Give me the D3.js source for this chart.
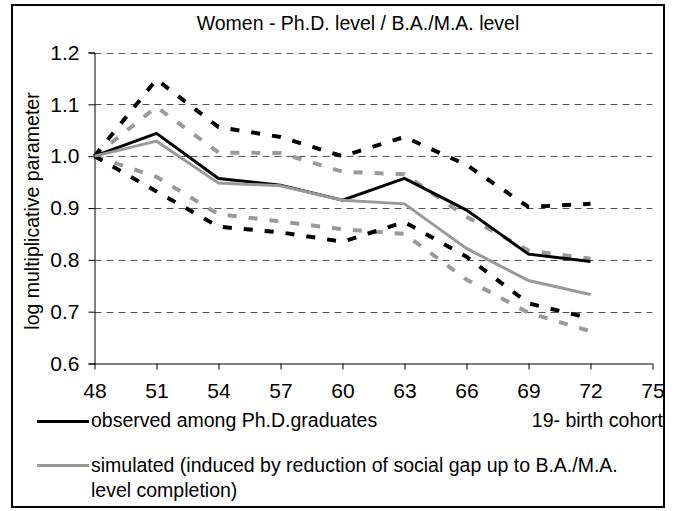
<!DOCTYPE html>
<html>
<head>
<meta charset="utf-8">
<script src="https://cdn.jsdelivr.net/npm/d3@7"></script>
<style>
  html, body { margin: 0; padding: 0; background: #fff; }
  svg { display: block; }
  text { font-family: "Liberation Sans", Arial, sans-serif; fill: #000; }
</style>
</head>
<body>
<svg id="chart" width="676" height="511"></svg>
<script>
// Birth cohorts (19xx) and the log multiplicative parameter for each series
const cohorts = [48, 51, 54, 57, 60, 63, 66, 69, 72];
const observed      = [1.000, 1.044, 0.957, 0.944, 0.915, 0.957, 0.896, 0.811, 0.797];
const observedHigh  = [1.000, 1.148, 1.056, 1.037, 1.000, 1.037, 0.983, 0.902, 0.908];
const observedLow   = [1.000, 0.932, 0.864, 0.853, 0.835, 0.873, 0.806, 0.716, 0.687];
const simulated     = [1.000, 1.029, 0.948, 0.943, 0.915, 0.908, 0.822, 0.760, 0.733];
const simulatedHigh = [1.000, 1.095, 1.007, 1.006, 0.970, 0.965, 0.883, 0.818, 0.802];
const simulatedLow  = [1.000, 0.960, 0.888, 0.874, 0.859, 0.850, 0.762, 0.698, 0.662];
const xTicks = [48, 51, 54, 57, 60, 63, 66, 69, 72, 75];
const yTicks = [0.6, 0.7, 0.8, 0.9, 1.0, 1.1, 1.2];

const titleText = "Women - Ph.D. level / B.A./M.A. level";
const yLabel = "log multiplicative parameter";
const legendObserved = "observed among Ph.D.graduates";
const cohortLabel = "19- birth cohort";
const legendSimulated = ["simulated (induced by reduction of social gap up to B.A./M.A.", "level completion)"];

const svg = d3.select("#chart");
const tickFont = 21;
const textFont = 19.5;

// outer frame
svg.append("rect")
  .attr("x", 12).attr("y", 5).attr("width", 652).attr("height", 502)
  .attr("fill", "#fff").attr("stroke", "#000").attr("stroke-width", 2);

const x = d3.scaleLinear().domain([48, 75]).range([94.5, 652.5]);
const y = d3.scaleLinear().domain([0.6, 1.2]).range([363.5, 52.5]);

// horizontal dashed gridlines
svg.append("g")
  .selectAll("line")
  .data(yTicks.filter(v => v > 0.6))
  .join("line")
  .attr("x1", x(48)).attr("x2", x(75))
  .attr("y1", d => Math.round(y(d)) + 0.5).attr("y2", d => Math.round(y(d)) + 0.5)
  .attr("stroke", "#555").attr("stroke-width", 1)
  .attr("stroke-dasharray", "7,5");

// axes
const yAxis = svg.append("g")
  .attr("transform", `translate(${x(48)},0)`)
  .call(d3.axisLeft(y).tickValues(yTicks).tickFormat(d3.format(".1f")).tickSize(6).tickPadding(9));
const xAxis = svg.append("g")
  .attr("transform", `translate(0,${y(0.6)})`)
  .call(d3.axisBottom(x).tickValues(xTicks).tickFormat(d3.format("d")).tickSize(6).tickPadding(14));
[yAxis, xAxis].forEach(g => {
  g.select(".domain").attr("stroke", "#000").attr("stroke-width", 1);
  g.selectAll(".tick line").attr("stroke", "#000");
  g.selectAll(".tick text")
    .style("font-family", '"Liberation Sans", Arial, sans-serif')
    .style("font-size", tickFont + "px").attr("fill", "#000");
});
xAxis.select(".domain").attr("d", `M${x(48)},0.5H${x(75)}`);
xAxis.selectAll(".tick line").attr("y1", 0);

// series lines
const line = vals => d3.line()
  .x((d, i) => x(cohorts[i]))
  .y(d => y(d))(vals);

const series = [
  { vals: simulatedHigh, color: "#999", dash: "9,12", width: 4 },
  { vals: simulatedLow,  color: "#999", dash: "9,12", width: 4 },
  { vals: observedHigh,  color: "#000", dash: "9,12", width: 4 },
  { vals: observedLow,   color: "#000", dash: "9,12", width: 4 },
  { vals: observed,      color: "#000", dash: null,   width: 3 },
  { vals: simulated,     color: "#999", dash: null,   width: 3 }
];
svg.append("g")
  .selectAll("path")
  .data(series)
  .join("path")
  .attr("d", d => line(d.vals))
  .attr("fill", "none")
  .attr("stroke", d => d.color)
  .attr("stroke-width", d => d.width)
  .attr("stroke-dasharray", d => d.dash)
  .attr("stroke-linejoin", "miter");

// title
svg.append("text")
  .attr("x", 358).attr("y", 30)
  .attr("text-anchor", "middle")
  .style("font-size", textFont + "px")
  .text(titleText);

// y axis title
svg.append("text")
  .attr("transform", `translate(39,${(y(0.6) + y(1.2)) / 2 + 3}) rotate(-90)`)
  .attr("text-anchor", "middle")
  .style("font-size", textFont + "px")
  .text(yLabel);

// legend
svg.append("line")
  .attr("x1", 37).attr("x2", 89).attr("y1", 421.5).attr("y2", 421.5)
  .attr("stroke", "#000").attr("stroke-width", 3);
svg.append("text")
  .attr("x", 91).attr("y", 427)
  .style("font-size", textFont + "px")
  .text(legendObserved);
svg.append("text")
  .attr("x", 663).attr("y", 427)
  .attr("text-anchor", "end")
  .style("font-size", textFont + "px")
  .text(cohortLabel);

svg.append("line")
  .attr("x1", 37).attr("x2", 89).attr("y1", 465.5).attr("y2", 465.5)
  .attr("stroke", "#999").attr("stroke-width", 3);
svg.append("text")
  .attr("x", 91).attr("y", 472)
  .style("font-size", textFont + "px")
  .selectAll("tspan")
  .data(legendSimulated)
  .join("tspan")
  .attr("x", 91)
  .attr("dy", (d, i) => i === 0 ? 0 : 25)
  .text(d => d);
</script>
</body>
</html>
